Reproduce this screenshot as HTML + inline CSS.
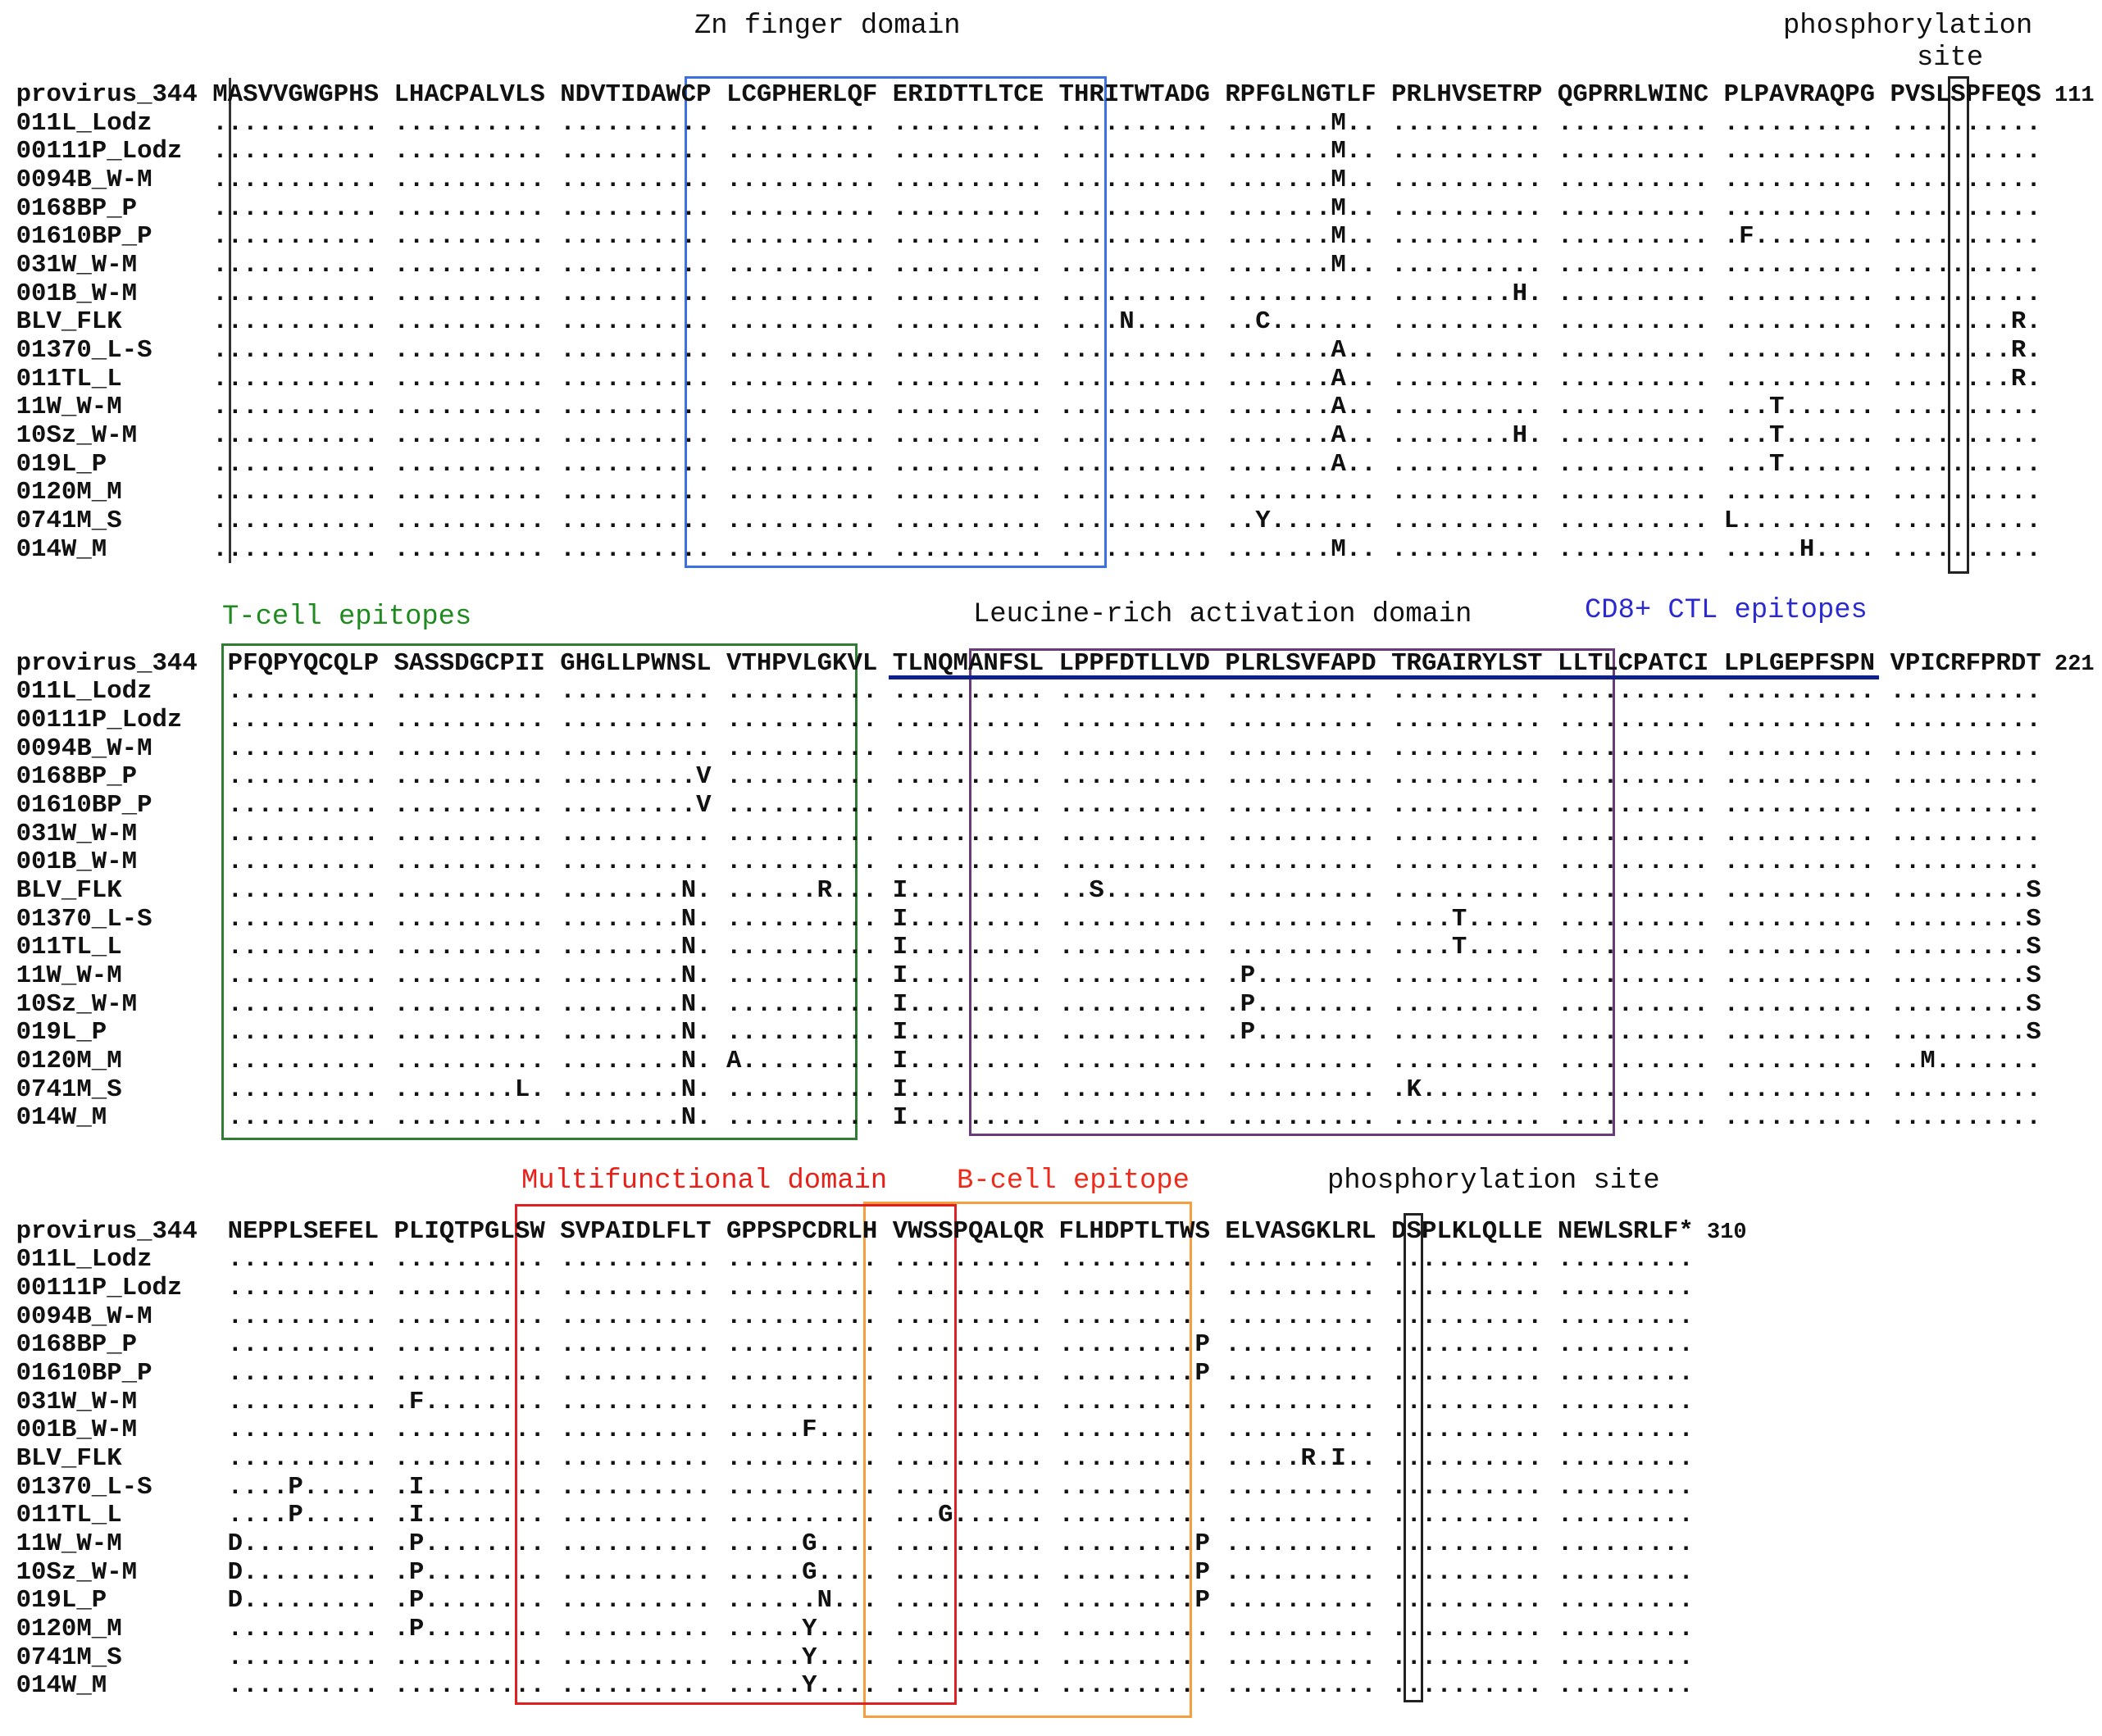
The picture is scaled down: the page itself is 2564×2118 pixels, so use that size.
<!DOCTYPE html>
<html>
<head>
<meta charset="utf-8">
<style>
html,body{margin:0;padding:0;background:#fff;}
#fig{position:relative;width:2564px;height:2118px;overflow:hidden;background:#fff;}
.row{position:absolute;left:19.6px;white-space:pre;font-family:"Liberation Mono",monospace;font-weight:bold;font-size:30.72px;line-height:34.66px;color:#111;}
.num{font-size:27px;}
.lbl{position:absolute;white-space:pre;font-family:"Liberation Mono",monospace;font-size:33.8px;line-height:33.8px;color:#111;}
.box{position:absolute;box-sizing:border-box;}
</style>
</head>
<body>
<div id="fig">
  <div class="lbl" style="left:847px;top:16px;">Zn finger domain</div>
  <div class="lbl" style="left:2175px;top:16px;">phosphorylation</div>
  <div class="lbl" style="left:2338px;top:55px;">site</div>
  <div class="lbl" style="left:271px;top:737px;color:#1f8a1f;">T-cell epitopes</div>
  <div class="lbl" style="left:1187px;top:734px;">Leucine-rich activation domain</div>
  <div class="lbl" style="left:1933px;top:729px;color:#2a2ad0;">CD8+ CTL epitopes</div>
  <div class="lbl" style="left:636px;top:1425px;color:#e8201a;">Multifunctional domain</div>
  <div class="lbl" style="left:1167px;top:1425px;color:#ee2a1a;">B-cell epitope</div>
  <div class="lbl" style="left:1619px;top:1425px;">phosphorylation site</div>

  <div class="box" style="left:279px;top:95px;width:3px;height:592px;background:#333;"></div>
  <div class="box" style="left:835px;top:93px;width:515px;height:600px;border:3px solid #3a70e0;"></div>
  <div class="box" style="left:2376px;top:93px;width:26px;height:607px;border:3px solid #222;"></div>
  <div class="box" style="left:270px;top:785px;width:776px;height:606px;border:3px solid #2e7d32;"></div>
  <div class="box" style="left:1182px;top:791px;width:788px;height:595px;border:3px solid #6a3a7a;"></div>
  <div class="box" style="left:1084px;top:824px;width:1208px;height:5px;background:#10208a;"></div>
  <div class="box" style="left:1053px;top:1466px;width:401px;height:630px;border:3px solid #f5a040;"></div>
  <div class="box" style="left:628px;top:1469px;width:539px;height:611px;border:3px solid #e02020;"></div>
  <div class="box" style="left:1712px;top:1480px;width:24px;height:597px;border:3px solid #222;"></div>
</div>
<script>
const names = ["provirus_344","011L_Lodz","00111P_Lodz","0094B_W-M","0168BP_P","01610BP_P","031W_W-M","001B_W-M","BLV_FLK","01370_L-S","011TL_L","11W_W-M","10Sz_W-M","019L_P","0120M_M","0741M_S","014W_M"];
const ref1 = ["ASVVGWGPHS","LHACPALVLS","NDVTIDAWCP","LCGPHERLQF","ERIDTTLTCE","THRITWTADG","RPFGLNGTLF","PRLHVSETRP","QGPRRLWINC","PLPAVRAQPG","PVSLSPFEQS"];
const ref2 = ["PFQPYQCQLP","SASSDGCPII","GHGLLPWNSL","VTHPVLGKVL","TLNQMANFSL","LPPFDTLLVD","PLRLSVFAPD","TRGAIRYLST","LLTLCPATCI","LPLGEPFSPN","VPICRFPRDT"];
const ref3 = ["NEPPLSEFEL","PLIQTPGLSW","SVPAIDLFLT","GPPSPCDRLH","VWSSPQALQR","FLHDPTLTWS","ELVASGKLRL","DSPLKLQLLE","NEWLSRLF*"];
const endNums = ["111","221","310"];
// mutations: [row, block, index, residue]
const mut1 = [[1,6,7,"M"],[2,6,7,"M"],[3,6,7,"M"],[4,6,7,"M"],[5,6,7,"M"],[6,6,7,"M"],[16,6,7,"M"],
[5,9,1,"F"],[7,7,8,"H"],[12,7,8,"H"],[8,5,4,"N"],[8,6,2,"C"],[8,10,8,"R"],
[9,6,7,"A"],[9,10,8,"R"],[10,6,7,"A"],[10,10,8,"R"],[11,6,7,"A"],[11,9,3,"T"],
[12,6,7,"A"],[12,9,3,"T"],[13,6,7,"A"],[13,9,3,"T"],[15,6,2,"Y"],[15,9,0,"L"],[16,9,5,"H"]];
const mut2 = [[4,2,9,"V"],[5,2,9,"V"],
[8,2,8,"N"],[9,2,8,"N"],[10,2,8,"N"],[11,2,8,"N"],[12,2,8,"N"],[13,2,8,"N"],[14,2,8,"N"],[15,2,8,"N"],[16,2,8,"N"],
[8,4,0,"I"],[9,4,0,"I"],[10,4,0,"I"],[11,4,0,"I"],[12,4,0,"I"],[13,4,0,"I"],[14,4,0,"I"],[15,4,0,"I"],[16,4,0,"I"],
[8,3,6,"R"],[8,5,2,"S"],[8,10,9,"S"],[9,7,4,"T"],[9,10,9,"S"],[10,7,4,"T"],[10,10,9,"S"],
[11,6,1,"P"],[11,10,9,"S"],[12,6,1,"P"],[12,10,9,"S"],[13,6,1,"P"],[13,10,9,"S"],
[14,3,0,"A"],[14,10,2,"M"],[15,1,8,"L"],[15,7,1,"K"]];
const mut3 = [[4,5,9,"P"],[5,5,9,"P"],[6,1,1,"F"],[7,3,5,"F"],[8,6,5,"R"],[8,6,7,"I"],
[9,0,4,"P"],[9,1,1,"I"],[10,0,4,"P"],[10,1,1,"I"],[10,4,3,"G"],
[11,0,0,"D"],[11,1,1,"P"],[11,3,5,"G"],[11,5,9,"P"],
[12,0,0,"D"],[12,1,1,"P"],[12,3,5,"G"],[12,5,9,"P"],
[13,0,0,"D"],[13,1,1,"P"],[13,3,6,"N"],[13,5,9,"P"],
[14,1,1,"P"],[14,3,5,"Y"],[15,3,5,"Y"],[16,3,5,"Y"]];
const panelTops = [99, 792.6, 1485.6];
const rowPitch = 34.66;

const fig = document.getElementById('fig');
function pad(s,n){while(s.length<n)s+=" ";return s;}
function buildPanel(p, ref, muts, lead){
  for(let r=0;r<names.length;r++){
    let blocks, pre;
    if(r===0){
      blocks = ref.slice();
      pre = lead ? "M" : " ";
    } else {
      blocks = ref.map(b=>b.replace(/./g,"."));
      pre = lead ? "." : " ";
      muts.forEach(m=>{
        if(m[0]===r){
          const b=blocks[m[1]];
          blocks[m[1]] = b.substring(0,m[2]) + m[3] + b.substring(m[2]+1);
        }
      });
    }
    const div=document.createElement('div');
    div.className='row';
    
    
    div.style.top=(panelTops[p]+r*rowPitch)+'px';
    div.textContent = pad(names[r],13) + pre + blocks.join(" ");
    if(r===0){
      const n=document.createElement('span');
      n.className='num';
      
      
      n.textContent=" "+endNums[p];
      div.appendChild(n);
    }
    fig.appendChild(div);
  }
}
buildPanel(0, ref1, mut1, true);
buildPanel(1, ref2, mut2, false);
buildPanel(2, ref3, mut3, false);
</script>
</body>
</html>
